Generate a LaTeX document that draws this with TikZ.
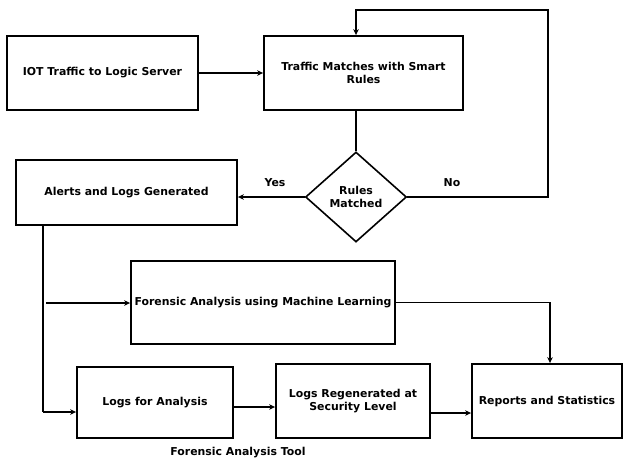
\documentclass[tikz,border=0pt]{standalone}
\usepackage{fontspec}
\setmainfont{DejaVu Sans}
\usetikzlibrary{arrows.meta,shapes.geometric,calc}
\tikzset{
  label font/.style={font=\bfseries\fontsize{10.9}{13.5}\selectfont},
  box/.style={draw, line width=1.8pt, rectangle, align=center, inner sep=2pt, label font},
  decision/.style={draw, line width=1.6pt, diamond, align=center, inner sep=0pt, label font},
  link/.style={line width=1.2pt, -{Stealth[length=6pt,width=5.5pt]}},
  plain/.style={line width=1.2pt},
  tag/.style={label font}
}
\begin{document}
\begin{tikzpicture}[x=1pt,y=-1pt]
\useasboundingbox (0,0) rectangle (623,461);
\fill[white] (0,0) rectangle (623,461);

% process boxes
\node[box, minimum width=191, minimum height=74] (iot) at (102.5,73) {IOT Traffic to Logic Server};
\node[box, minimum width=199, minimum height=74] (match) at (363.5,73) {Traffic Matches with Smart\\Rules};
\node[decision, minimum width=101, minimum height=90] (dec) at (356,197) {Rules\\Matched};
\node[box, minimum width=221, minimum height=65] (alert) at (126.5,192.5) {Alerts and Logs Generated};
\node[box, minimum width=264, minimum height=83] (fml) at (263,302.5) {Forensic Analysis using Machine Learning};
\node[box, minimum width=156, minimum height=71] (logsa) at (155,402.5) {Logs for Analysis};
\node[box, minimum width=154, minimum height=74] (logsr) at (353,401) {Logs Regenerated at\\Security Level};
\node[box, minimum width=150, minimum height=74] (rep) at (547,401) {Reports and Statistics};
\node[tag] (tool) at (238,453) {Forensic Analysis Tool};

% labels on the decision branches
\node[tag] (yes) at (275,183) {Yes};
\node[tag] (no) at (452,183) {No};

% helper points for the routed connectors
\coordinate (loopc) at (548,10);
\coordinate (trunk) at (43,412);
\coordinate (branch) at (46,303);
\coordinate (sidea) at (0,407);
\coordinate (sider) at (0,413);

% connectors
\draw[link] (iot) -- (match);
\draw[plain] (dec.north |- match.south) -- (dec.north);
\draw[link] (dec.east) -| (loopc) -| (dec.north |- match.north);
\draw[link] (dec.west) -- (alert.east |- dec.west);
\draw[plain] (trunk |- alert.south) -- (trunk);
\draw[link] (trunk) -- (logsa.west |- trunk);
\draw[link] (branch) -- (fml.west |- branch);
\draw[link] (fml.east) -| ([xshift=3]rep.north);
\draw[link] (logsa.east |- sidea) -- (logsr.west |- sidea);
\draw[link] (logsr.east |- sider) -- (rep.west |- sider);
\end{tikzpicture}
\end{document}
